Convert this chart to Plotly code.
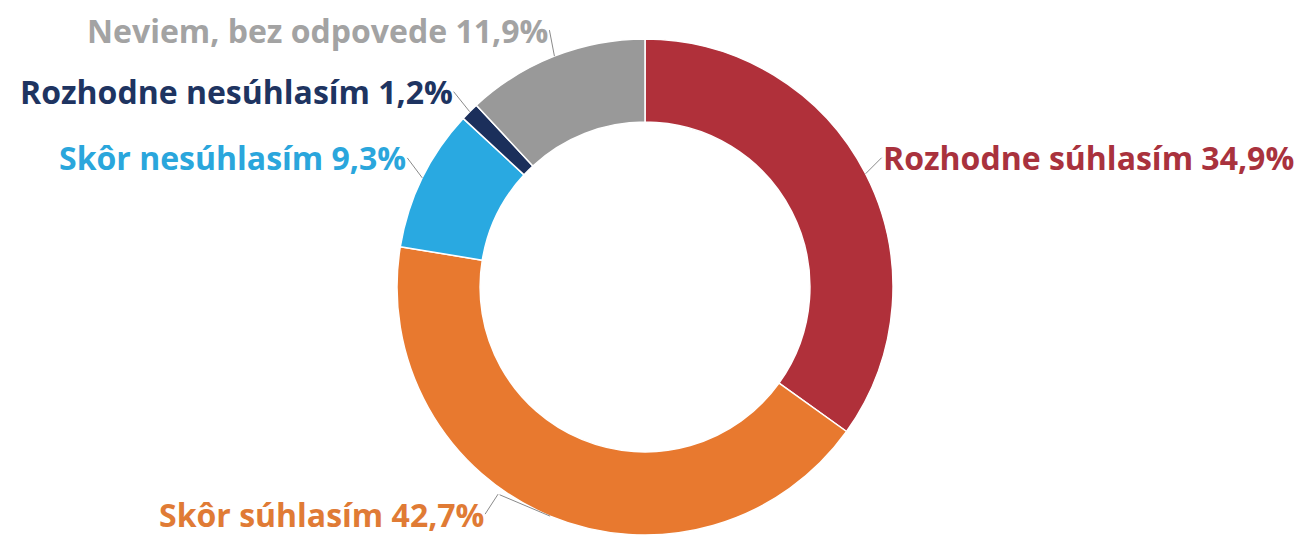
import math
import plotly.graph_objects as go

labels = ["Rozhodne súhlasím", "Skôr súhlasím", "Skôr nesúhlasím", "Rozhodne nesúhlasím", "Neviem, bez odpovede"]
values = [34.9, 42.7, 9.3, 1.2, 11.9]
slice_colors = ["#B0303A", "#E8792F", "#29A9E1", "#1B2F5B", "#999999"]
text_colors = ["#A9323D", "#E07B35", "#2AA6DC", "#1E3461", "#A3A3A3"]
# leader elbow offset from slice edge (px, screen: +x right, +y down) and text offset from elbow
elbows = [(0, 0), (-52, -22), (0, 0), (0, 0), (0, 0)]
offsets = [(16, -16, "left"), (-13, 20, "right"), (-15, -20, "right"), (-16, -20, "right"), (-5, -26, "right")]

W, H = 1295, 528
cx_px, cy_px, R = 637, 279, 248
dom_x = [(cx_px - R) / W, (cx_px + R) / W]
dom_y = [(H - cy_px - R) / H, (H - cy_px + R) / H]

fig = go.Figure(go.Pie(
    labels=labels, values=values, sort=False, direction="clockwise", rotation=0,
    hole=0.665, marker=dict(colors=slice_colors, line=dict(color="white", width=1.5)),
    textinfo="none", hoverinfo="label+percent", showlegend=False,
    domain=dict(x=dom_x, y=dom_y),
))

total = sum(values)
cum = 0
cxp = (dom_x[0] + dom_x[1]) / 2
cyp = (dom_y[0] + dom_y[1]) / 2
line_col = "#8A8A8A"
for lab, v, tc, (ex, ey), (ax, ay, anc) in zip(labels, values, text_colors, elbows, offsets):
    mid = (cum + v / 2) / total * 2 * math.pi
    cum += v
    hx = cxp + R * math.sin(mid) / W
    hy = cyp + R * math.cos(mid) / H
    if ex or ey:
        # first segment: elbow -> slice edge
        fig.add_annotation(x=hx, y=hy, xref="paper", yref="paper", text="",
                           showarrow=True, arrowhead=0, arrowwidth=1, arrowcolor=line_col,
                           ax=ex, ay=ey, standoff=0)
        hx = hx + ex / W
        hy = hy - ey / H
    pct = f"{v:.1f}".replace(".", ",") + "%"
    fig.add_annotation(
        x=hx, y=hy, xref="paper", yref="paper",
        text=f"<b>{lab} {pct}</b>", showarrow=True, arrowhead=0, arrowwidth=1,
        arrowcolor=line_col, ax=ax, ay=ay, xanchor=anc, yanchor="middle",
        font=dict(family="Open Sans", size=32, color=tc), borderpad=0,
    )

fig.update_layout(
    width=W, height=H, margin=dict(l=0, r=0, t=0, b=0),
    paper_bgcolor="white", plot_bgcolor="white",
)
fig.write_html("out.html")
